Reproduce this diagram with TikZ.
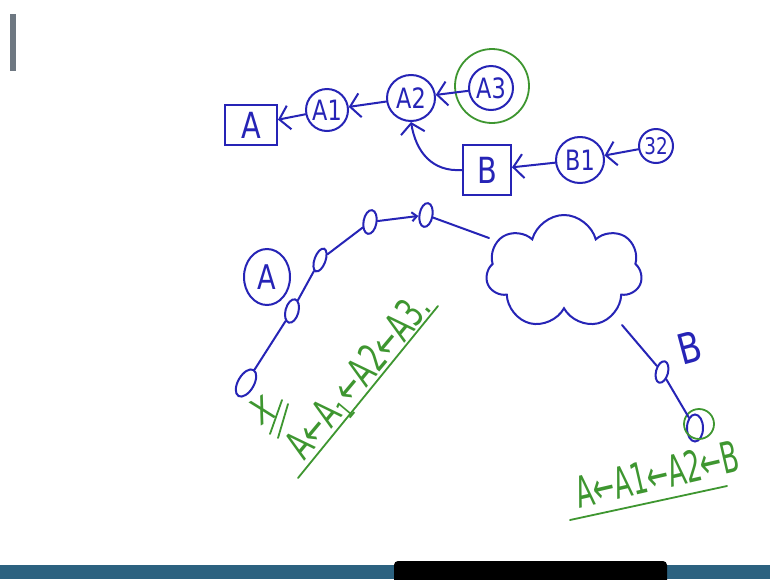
\documentclass[tikz,border=0pt]{standalone}
\usepackage{fontspec}
\setmainfont[FakeStretch=0.8]{DejaVu Sans}
\usetikzlibrary{positioning,arrows.meta,shapes.geometric,shapes.symbols}
\definecolor{inkblue}{RGB}{38,36,182}
\definecolor{inkgreen}{RGB}{62,150,48}
\definecolor{barteal}{RGB}{44,98,128}
\definecolor{edgegray}{RGB}{110,120,130}
\newcommand{\lowone}{\raisebox{-0.35ex}{\fontsize{22}{22}\selectfont 1}\kern2pt}
\tikzset{
  pen/.style={inkblue, line width=2pt, line cap=round},
  greenpen/.style={inkgreen, line width=1.8pt, line cap=round},
  box/.style={draw=inkblue, line width=2pt, inner sep=0pt, text=inkblue, font=\fontsize{36}{36}\selectfont},
  circ/.style={draw=inkblue, ellipse, line width=2pt, inner sep=0pt, text=inkblue, font=\fontsize{28}{28}\selectfont},
  hop/.style={draw=inkblue, ellipse, line width=2pt, inner sep=0pt, minimum width=13pt, minimum height=24pt},
  arrow/.style={pen, -{Straight Barb[length=10pt,width=24pt]}},
  note/.style={inkgreen, inner sep=0pt}
}

\begin{document}
\begin{tikzpicture}[x=1pt,y=-1pt]
  \useasboundingbox[fill=white] (0,0) rectangle (770,579);
  % screen edge and taskbar
  \fill[edgegray] (10,14) rectangle (16,71);
  \fill[barteal] (0,565) rectangle (770,579);
  \fill[black, rounded corners=4pt] (394,561) rectangle (667,585);

  % version chain on top
  \node[box, minimum width=52pt, minimum height=40pt] (a) at (251,125) {A};
  \node[circ, minimum width=42pt, minimum height=42pt] (a1) at (327,110) {A1};
  \node[circ, minimum width=48pt, minimum height=46pt] (a2) at (411,98) {A2};
  \node[circ, minimum width=44pt, minimum height=44pt] (a3) at (491,88) {A3};
  \node[draw=inkgreen, circle, line width=1.8pt, minimum size=74pt] (a3ring) at (492,86) {};
  \node[box, minimum width=48pt, minimum height=50pt] (b) at (487,170) {B};
  \node[circ, minimum width=48pt, minimum height=46pt] (b1) at (580,160) {B1};
  \node[circ, minimum width=34pt, minimum height=34pt, font=\fontsize{23}{23}\selectfont] (b2) at (656,146) {32};
  \draw[arrow] (a1) -- (a);
  \draw[arrow] (a2) -- (a1);
  \draw[arrow] (a3) -- (a2);
  \draw[arrow] (b1) -- (b);
  \draw[arrow] (b2) -- (b1);
  \draw[arrow] (b.west) .. controls (432,172) and (416,152) .. (a2.south);

  % network path
  \node[circ, minimum width=46pt, minimum height=56pt, font=\fontsize{34}{34}\selectfont] (src) at (267,277) {A};
  \node[hop, rotate=-30, minimum width=16pt, minimum height=30pt] (o1) at (246,383) {};
  \node[hop, rotate=-15] (o2) at (292,311) {};
  \node[hop, rotate=-20, minimum width=11pt] (o3) at (320,260) {};
  \node[hop, rotate=-10] (o4) at (370,222) {};
  \node[hop, rotate=-10] (o5) at (426,215) {};
  \node[cloud, draw=inkblue, line width=2pt, cloud puffs=7, aspect=1.4,
        minimum width=156pt, minimum height=114pt] (net) at (564,272) {};
  \coordinate (netin) at (489,238);
  \coordinate (netout) at (622,325);
  \node[hop, rotate=-15, minimum width=12pt, minimum height=22pt] (o6) at (662,372) {};
  \node[hop, minimum width=16pt, minimum height=27pt] (o7) at (695,428) {};
  \node[draw=inkgreen, circle, line width=1.8pt, minimum size=30pt] (o7ring) at (699,424) {};
  \node[inkblue, rotate=15, inner sep=0pt, font=\fontsize{42}{42}\selectfont] (blabel) at (690,348) {B};
  \draw[pen] (o1) -- (o2);
  \draw[pen] (o2) -- (o3);
  \draw[pen] (o3) -- (o4);
  \draw[pen, -{Straight Barb[length=5pt,width=9pt]}] (o4) -- (o5);
  \draw[pen] (o5) -- (netin);
  \draw[pen] (netout) -- (o6);
  \draw[pen] (o6) -- (o7);

  % notes in green
  \node[note, rotate=50, font=\fontsize{34}{34}\selectfont] (chainA) at (360,378) {\scalebox{1}[1.2]{A←A\lowone←A2←A3.}};
  \draw[greenpen] (298,478) -- (438,306);
  \node[note, rotate=30, font=\fontsize{36}{36}\selectfont] (cross) at (262,410) {X};
  \draw[greenpen] (282,400) -- (270,434);
  \draw[greenpen] (288,404) -- (278,438);
  \node[note, rotate=13, font=\fontsize{32}{32}\selectfont] (chainB) at (657,474) {\scalebox{1}[1.35]{A←A1←A2←B}};
  \draw[greenpen] (570,520) -- (727,486);
\end{tikzpicture}
\end{document}
